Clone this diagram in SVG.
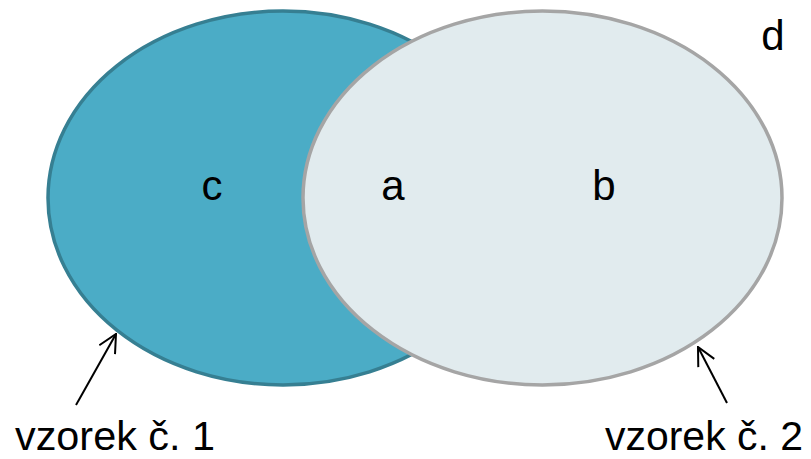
<svg xmlns="http://www.w3.org/2000/svg" width="811" height="459" viewBox="0 0 811 459">
<defs>
<style>
.lbl{font-family:"Liberation Sans",Arial,sans-serif;font-size:42px;fill:#000;text-anchor:middle}
.cap{font-family:"Liberation Sans",Arial,sans-serif;font-size:40px;fill:#000}
.arr{stroke:#000;stroke-width:2;fill:none;marker-end:url(#ah)}
</style>
<marker id="ah" viewBox="0 0 20 20" refX="19" refY="10" markerWidth="20" markerHeight="20" markerUnits="userSpaceOnUse" orient="auto">
<path d="M1,1 L19,10 L1,19" fill="none" stroke="#000" stroke-width="2"/>
</marker>
</defs>
<rect width="811" height="459" fill="#fff"/>
<g id="sample1">
<ellipse cx="283" cy="198" rx="235" ry="187" fill="#4BACC6" stroke="#367F92" stroke-width="3.5"/>
</g>
<g id="sample2">
<ellipse cx="542.5" cy="198" rx="239.5" ry="187" fill="#E1EBEE" stroke="#A5A5A5" stroke-width="3.5"/>
</g>
<g id="labels">
<text class="lbl" x="212" y="200">c</text>
<text class="lbl" x="393" y="200">a</text>
<text class="lbl" x="604" y="200">b</text>
<text class="lbl" x="773" y="50">d</text>
</g>
<g id="connectors">
<line class="arr" x1="76" y1="405" x2="116" y2="334"/>
<line class="arr" x1="727" y1="403" x2="698" y2="347"/>
</g>
<g id="captions">
<text class="cap" x="15" y="450" textLength="200" lengthAdjust="spacingAndGlyphs">vzorek č. 1</text>
<text class="cap" x="605" y="450" textLength="198" lengthAdjust="spacingAndGlyphs">vzorek č. 2</text>
</g>
</svg>
